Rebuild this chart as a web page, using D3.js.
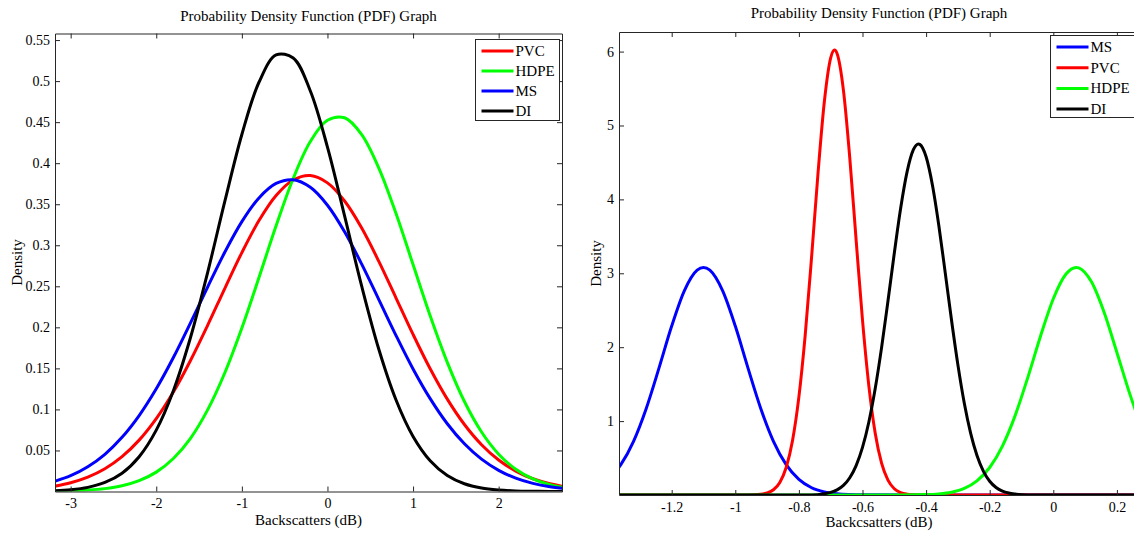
<!DOCTYPE html>
<html>
<head>
<meta charset="utf-8">
<script src="https://cdn.jsdelivr.net/npm/d3@7"></script>
<style>
  body { margin: 0; background: #fff; }
  svg { display: block; }
  text { font-family: "Liberation Serif", "Times New Roman", serif; fill: #000; }
</style>
</head>
<body>
<svg id="chart" width="1134" height="536"></svg>
<script>
// ---- left panel data ----
const leftX = [-3.2,-3.0,-2.8,-2.6,-2.4,-2.2,-2.0,-1.8,-1.6,-1.4,-1.2,-1.0,-0.8,-0.6,-0.4,-0.2,0.0,0.2,0.4,0.6,0.8,1.0,1.2,1.4,1.6,1.8,2.0,2.2,2.4,2.6,2.8]
const leftPVC = [0.0062,0.0107,0.0176,0.0278,0.0425,0.0626,0.0888,0.1212,0.1596,0.2024,0.2473,0.2911,0.3301,0.3606,0.3795,0.3849,0.3760,0.3539,0.3210,0.2804,0.2360,0.1914,0.1495,0.1125,0.0816,0.0570,0.0384,0.0249,0.0155,0.0094,0.0054]
const leftHDPE = [0.0003,0.0008,0.0017,0.0035,0.0070,0.0132,0.0236,0.0402,0.0648,0.0994,0.1444,0.1992,0.2607,0.3237,0.3814,0.4264,0.4523,0.4553,0.4349,0.3941,0.3389,0.2765,0.2141,0.1573,0.1096,0.0725,0.0455,0.0271,0.0153,0.0082,0.0042]
const leftMS = [0.0119,0.0192,0.0301,0.0453,0.0660,0.0925,0.1251,0.1632,0.2054,0.2491,0.2914,0.3288,0.3577,0.3753,0.3798,0.3706,0.3488,0.3165,0.2770,0.2338,0.1903,0.1493,0.1131,0.0825,0.0581,0.0394,0.0258,0.0163,0.0099,0.0058,0.0033]
const leftDI = [0.0008,0.0021,0.0050,0.0110,0.0223,0.0424,0.0748,0.1228,0.1876,0.2668,0.3531,0.4350,0.4986,0.5319,0.5281,0.4880,0.4196,0.3358,0.2501,0.1733,0.1118,0.0671,0.0375,0.0195,0.0094,0.0042,0.0018,0.0007,0.0003,0.0001,0.0000]
const leftXTicks = [-3,-2,-1,0,1,2]
const leftXTickLabels = ['-3','-2','-1','0','1','2']
const leftYTicks = [0.05,0.1,0.15,0.2,0.25,0.3,0.35,0.4,0.45,0.5,0.55]
const leftYTickLabels = ['0.05','0.1','0.15','0.2','0.25','0.3','0.35','0.4','0.45','0.5','0.55']
const leftLegend = ['PVC','HDPE','MS','DI']

// ---- right panel data ----
const rightMSX = [-1.40,-1.36,-1.32,-1.28,-1.24,-1.20,-1.16,-1.12,-1.10,-1.08,-1.04,-1.00,-0.96,-0.92,-0.88,-0.84,-0.80,-0.76,-0.72,-0.68,-0.64,-0.60,-0.40,0.30]
const rightMSY = [0.211,0.411,0.727,1.172,1.717,2.286,2.766,3.043,3.08,3.043,2.766,2.286,1.717,1.172,0.727,0.411,0.211,0.0981,0.0416,0.0160,0.0056,0.0018,0,0]
const rightPVCX = [-1.40,-0.96,-0.92,-0.90,-0.88,-0.86,-0.84,-0.82,-0.80,-0.78,-0.76,-0.74,-0.72,-0.70,-0.688,-0.68,-0.66,-0.64,-0.62,-0.60,-0.58,-0.56,-0.54,-0.52,-0.50,-0.48,-0.46,-0.44,-0.40,0.30]
const rightPVCY = [0,0,0.0092,0.0268,0.0709,0.1705,0.372,0.738,1.328,2.171,3.224,4.347,5.321,5.916,6.02,5.974,5.478,4.561,3.449,2.368,1.477,0.836,0.430,0.201,0.0852,0.0328,0.0115,0.0037,0,0]
const rightHDPEX = [-1.40,-0.48,-0.40,-0.36,-0.32,-0.28,-0.24,-0.20,-0.16,-0.12,-0.08,-0.04,0.00,0.04,0.072,0.08,0.12,0.16,0.20,0.24,0.28,0.32]
const rightHDPEY = [0,0,0.0053,0.0149,0.0382,0.0893,0.191,0.372,0.662,1.074,1.592,2.152,2.656,2.991,3.08,3.074,2.884,2.469,1.929,1.375,0.895,0.532]
const rightDIX = [-1.40,-0.76,-0.72,-0.70,-0.68,-0.66,-0.64,-0.62,-0.60,-0.58,-0.56,-0.54,-0.52,-0.50,-0.48,-0.46,-0.44,-0.424,-0.42,-0.40,-0.38,-0.36,-0.34,-0.32,-0.30,-0.28,-0.26,-0.24,-0.22,-0.20,-0.18,-0.16,-0.14,-0.12,-0.08,0.30]
const rightDIY = [0,0,0.0167,0.0349,0.0693,0.1307,0.234,0.398,0.644,0.988,1.440,1.994,2.621,3.272,3.880,4.369,4.672,4.75,4.745,4.577,4.192,3.647,3.013,2.364,1.761,1.246,0.838,0.535,0.324,0.1865,0.102,0.0529,0.0261,0.0122,0,0]
const rightXTicks = [-1.2,-1,-0.8,-0.6,-0.4,-0.2,0,0.2]
const rightXTickLabels = ['-1.2','-1','-0.8','-0.6','-0.4','-0.2','0','0.2']
const rightYTicks = [1,2,3,4,5,6]
const rightYTickLabels = ['1','2','3','4','5','6']
const rightLegend = ['MS','PVC','HDPE','DI']

const colors = {PVC: '#ff0000', HDPE: '#00ff00', MS: '#0000ff', DI: '#000000'}
const axisColor = '#262626'

const svg = d3.select('#chart')

function drawPanel(p) {
    const x = d3.scaleLinear().domain(p.xDomain).range([p.left, p.right])
    const y = d3.scaleLinear().domain(p.yDomain).range([p.bottom, p.top])
    const g = svg.append('g')

    g.append('clipPath').attr('id', p.id + '-clip')
        .append('rect')
        .attr('x', p.left).attr('y', p.top)
        .attr('width', p.right - p.left).attr('height', p.bottom - p.top)

    // curves
    const line = d3.line()
        .x(d => x(d[0]))
        .y(d => y(d[1]))
        .curve(p.curve)
    p.series.forEach(s => {
        g.append('path')
            .datum(s.xs.map((v, i) => [v, s.ys[i]]))
            .attr('clip-path', 'url(#' + p.id + '-clip)')
            .attr('fill', 'none')
            .attr('stroke', colors[s.name])
            .attr('stroke-width', 3)
            .attr('stroke-linejoin', 'round')
            .attr('d', line)
    })

    // axes, ticks inward on all four sides
    const bottom = g.append('g')
        .attr('transform', 'translate(0,' + p.bottom + ')')
        .call(d3.axisBottom(x).tickValues(p.xTicks).tickFormat((d, i) => p.xTickLabels[i]).tickSize(-5).tickSizeOuter(0).tickPadding(7))
    const leftAx = g.append('g')
        .attr('transform', 'translate(' + p.left + ',0)')
        .call(d3.axisLeft(y).tickValues(p.yTicks).tickFormat((d, i) => p.yTickLabels[i]).tickSize(-5).tickSizeOuter(0).tickPadding(5))
    const topAx = g.append('g')
        .attr('transform', 'translate(0,' + p.top + ')')
        .call(d3.axisTop(x).tickValues(p.xTicks).tickFormat('').tickSize(-5).tickSizeOuter(0))
    const rightAx = g.append('g')
        .attr('transform', 'translate(' + p.right + ',0)')
        .call(d3.axisRight(y).tickValues(p.yTicks).tickFormat('').tickSize(-5).tickSizeOuter(0))
    ;[bottom, leftAx, topAx, rightAx].forEach(a => {
        a.selectAll('path.domain').attr('stroke', axisColor)
        a.selectAll('line').attr('stroke', axisColor)
        a.selectAll('text')
            .attr('font-family', '"Liberation Serif", serif')
            .attr('font-size', 14)
            .attr('fill', '#000')
    })

    // titles
    g.append('text')
        .attr('x', (p.left + p.right) / 2).attr('y', p.titleY)
        .attr('text-anchor', 'middle').attr('font-size', 15)
        .text('Probability Density Function (PDF) Graph')
    g.append('text')
        .attr('x', (p.left + p.right) / 2).attr('y', p.xLabelY)
        .attr('text-anchor', 'middle').attr('font-size', 15)
        .text(p.xLabel)
    g.append('text')
        .attr('transform', 'translate(' + p.yLabelX + ',' + (p.top + p.bottom) / 2 + ') rotate(-90)')
        .attr('text-anchor', 'middle').attr('font-size', 15)
        .text('Density')

    // legend
    const lg = g.append('g')
    lg.append('rect')
        .attr('x', p.legend.x).attr('y', p.legend.y)
        .attr('width', p.legend.w).attr('height', p.legend.h)
        .attr('fill', '#fff').attr('stroke', axisColor).attr('stroke-width', 1)
    p.legend.names.forEach((name, i) => {
        const ly = p.legend.y + p.legend.first + i * p.legend.step
        lg.append('line')
            .attr('x1', p.legend.x + 6).attr('x2', p.legend.x + 38)
            .attr('y1', ly).attr('y2', ly)
            .attr('stroke', colors[name]).attr('stroke-width', 3)
        lg.append('text')
            .attr('x', p.legend.x + 40).attr('y', ly + 5)
            .attr('font-size', 15)
            .text(name)
    })
}

drawPanel({
    id: 'left',
    left: 55, right: 562, top: 33.5, bottom: 491.5,
    xDomain: [-3.183, 2.74], yDomain: [0, 0.558],
    xTicks: leftXTicks, xTickLabels: leftXTickLabels,
    yTicks: leftYTicks, yTickLabels: leftYTickLabels,
    curve: d3.curveCatmullRom.alpha(0.5),
    series: [
        {name: 'PVC', xs: leftX, ys: leftPVC},
        {name: 'HDPE', xs: leftX, ys: leftHDPE},
        {name: 'MS', xs: leftX, ys: leftMS},
        {name: 'DI', xs: leftX, ys: leftDI}
    ],
    titleY: 21, xLabelY: 525, xLabel: 'Backscatters (dB)', yLabelX: 22,
    legend: {x: 475.5, y: 39.5, w: 84, h: 81, first: 11.5, step: 20, names: leftLegend}
})

drawPanel({
    id: 'right',
    left: 619, right: 1139, top: 32, bottom: 495,
    xDomain: [-1.3657, 0.2695], yDomain: [0, 6.265],
    xTicks: rightXTicks, xTickLabels: rightXTickLabels,
    yTicks: rightYTicks, yTickLabels: rightYTickLabels,
    curve: d3.curveMonotoneX,
    series: [
        {name: 'MS', xs: rightMSX, ys: rightMSY},
        {name: 'PVC', xs: rightPVCX, ys: rightPVCY},
        {name: 'HDPE', xs: rightHDPEX, ys: rightHDPEY},
        {name: 'DI', xs: rightDIX, ys: rightDIY}
    ],
    titleY: 18, xLabelY: 527, xLabel: 'Backcsatters (dB)', yLabelX: 601,
    legend: {x: 1050.5, y: 35.5, w: 84, h: 82, first: 11.5, step: 20.7, names: rightLegend}
})
</script>
</body>
</html>
